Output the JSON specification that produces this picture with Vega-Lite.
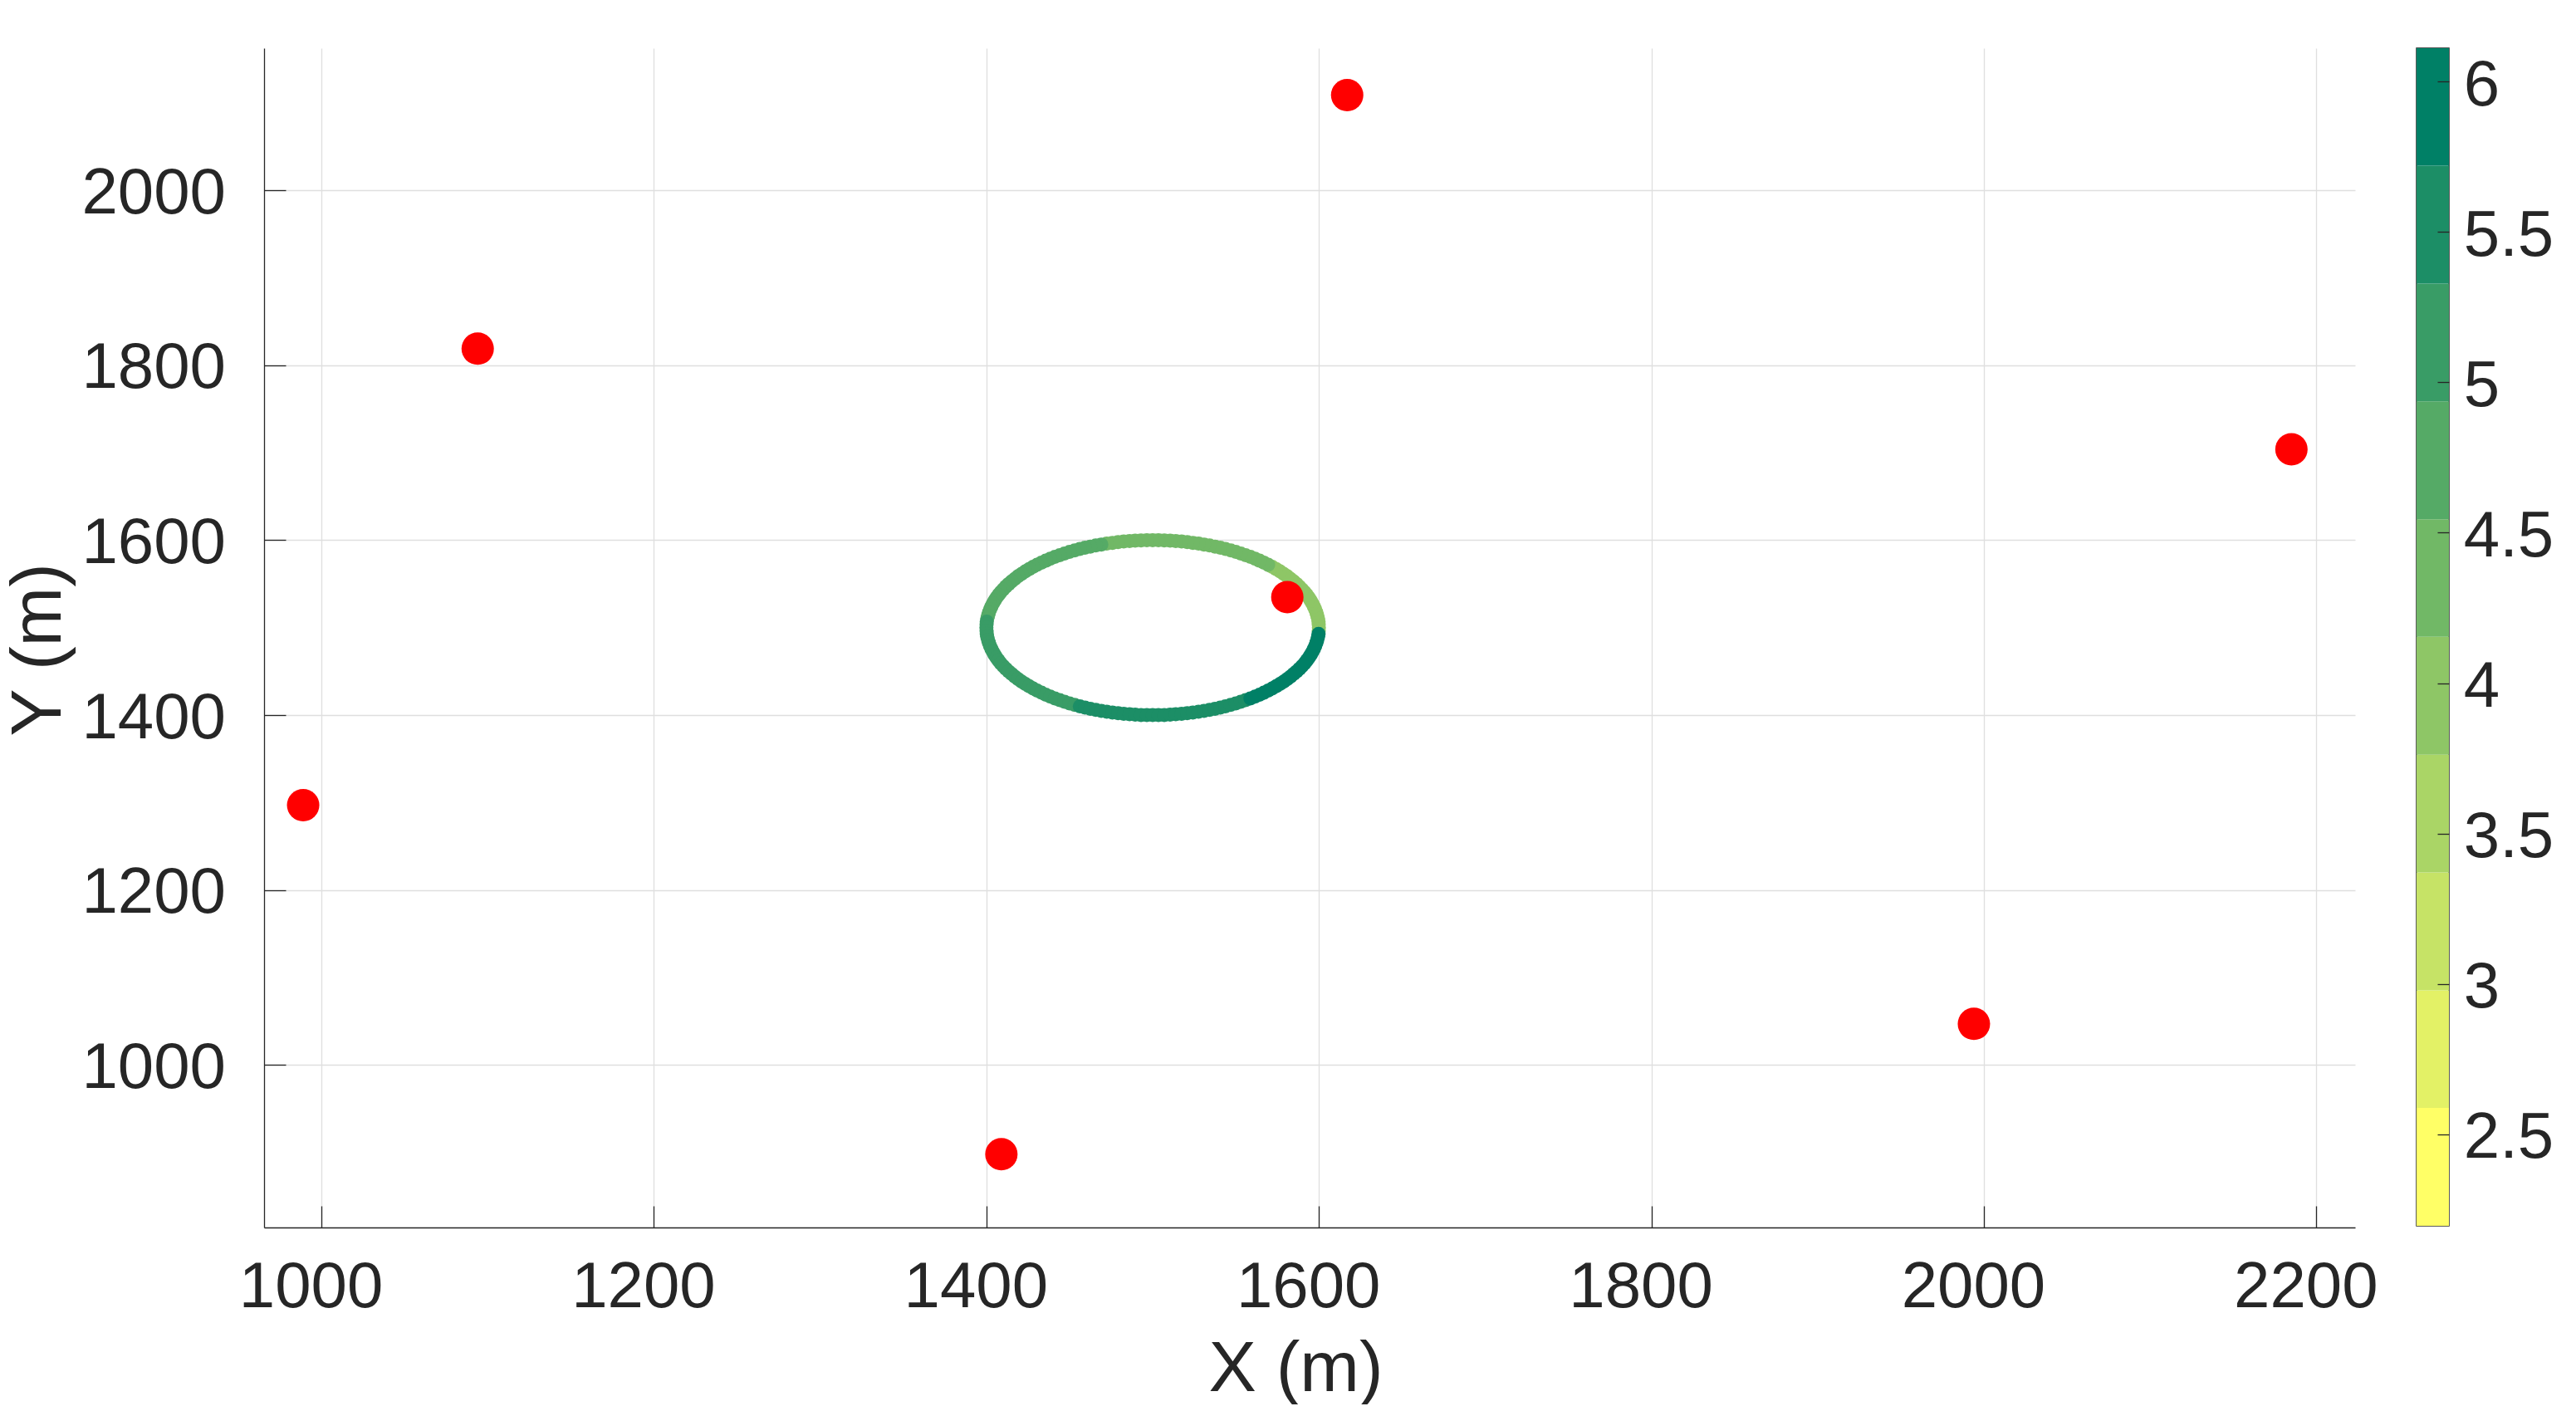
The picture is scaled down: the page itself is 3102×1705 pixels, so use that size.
{
"$schema": "https://vega.github.io/schema/vega-lite/v6.json",
"background": "white",
"padding": {"left": 3, "top": 57, "right": 0, "bottom": 0},
"spacing": 45,
"config": {
  "font": "Liberation Sans",
  "view": {"stroke": null},
  "axis": {"labelFont": "Liberation Sans", "titleFont": "Liberation Sans", "labelColor": "#262626", "titleColor": "#262626", "domainColor": "#262626", "tickColor": "#262626", "titleFontWeight": "normal"}
},
"datasets": {
  "ring": [
    {"x":1599.9,"y":1496.5,"v":3.86},{"x":1600.0,"y":1500.0,"v":3.87},{"x":1599.9,"y":1503.5,"v":3.89},{"x":1599.8,"y":1507.0,"v":3.90},
    {"x":1599.5,"y":1510.5,"v":3.91},{"x":1599.0,"y":1513.9,"v":3.92},{"x":1598.5,"y":1517.4,"v":3.94},{"x":1597.8,"y":1520.8,"v":3.95},
    {"x":1597.0,"y":1524.2,"v":3.96},{"x":1596.1,"y":1527.6,"v":3.98},{"x":1595.1,"y":1530.9,"v":3.99},{"x":1594.0,"y":1534.2,"v":4.00},
    {"x":1592.7,"y":1537.5,"v":4.01},{"x":1591.4,"y":1540.7,"v":4.03},{"x":1589.9,"y":1543.8,"v":4.04},{"x":1588.3,"y":1546.9,"v":4.05},
    {"x":1586.6,"y":1550.0,"v":4.07},{"x":1584.8,"y":1553.0,"v":4.08},{"x":1582.9,"y":1555.9,"v":4.09},{"x":1580.9,"y":1558.8,"v":4.10},
    {"x":1578.8,"y":1561.6,"v":4.12},{"x":1576.6,"y":1564.3,"v":4.13},{"x":1574.3,"y":1566.9,"v":4.14},{"x":1571.9,"y":1569.5,"v":4.15},
    {"x":1569.5,"y":1571.9,"v":4.17},{"x":1566.9,"y":1574.3,"v":4.18},{"x":1564.3,"y":1576.6,"v":4.19},{"x":1561.6,"y":1578.8,"v":4.20},
    {"x":1558.8,"y":1580.9,"v":4.22},{"x":1555.9,"y":1582.9,"v":4.23},{"x":1553.0,"y":1584.8,"v":4.24},{"x":1550.0,"y":1586.6,"v":4.26},
    {"x":1547.0,"y":1588.3,"v":4.27},{"x":1543.8,"y":1589.9,"v":4.28},{"x":1540.7,"y":1591.4,"v":4.29},{"x":1537.5,"y":1592.7,"v":4.31},
    {"x":1534.2,"y":1594.0,"v":4.32},{"x":1530.9,"y":1595.1,"v":4.33},{"x":1527.6,"y":1596.1,"v":4.34},{"x":1524.2,"y":1597.0,"v":4.36},
    {"x":1520.8,"y":1597.8,"v":4.37},{"x":1517.4,"y":1598.5,"v":4.38},{"x":1513.9,"y":1599.0,"v":4.39},{"x":1510.5,"y":1599.5,"v":4.41},
    {"x":1507.0,"y":1599.8,"v":4.42},{"x":1503.5,"y":1599.9,"v":4.43},{"x":1500.0,"y":1600.0,"v":4.44},{"x":1496.5,"y":1599.9,"v":4.46},
    {"x":1493.0,"y":1599.8,"v":4.47},{"x":1489.5,"y":1599.5,"v":4.48},{"x":1486.1,"y":1599.0,"v":4.50},{"x":1482.6,"y":1598.5,"v":4.51},
    {"x":1479.2,"y":1597.8,"v":4.52},{"x":1475.8,"y":1597.0,"v":4.53},{"x":1472.4,"y":1596.1,"v":4.54},{"x":1469.1,"y":1595.1,"v":4.56},
    {"x":1465.8,"y":1594.0,"v":4.57},{"x":1462.5,"y":1592.7,"v":4.58},{"x":1459.3,"y":1591.4,"v":4.59},{"x":1456.2,"y":1589.9,"v":4.60},
    {"x":1453.1,"y":1588.3,"v":4.61},{"x":1450.0,"y":1586.6,"v":4.63},{"x":1447.0,"y":1584.8,"v":4.64},{"x":1444.1,"y":1582.9,"v":4.65},
    {"x":1441.2,"y":1580.9,"v":4.66},{"x":1438.4,"y":1578.8,"v":4.67},{"x":1435.7,"y":1576.6,"v":4.68},{"x":1433.1,"y":1574.3,"v":4.70},
    {"x":1430.5,"y":1571.9,"v":4.71},{"x":1428.1,"y":1569.5,"v":4.72},{"x":1425.7,"y":1566.9,"v":4.73},{"x":1423.4,"y":1564.3,"v":4.74},
    {"x":1421.2,"y":1561.6,"v":4.75},{"x":1419.1,"y":1558.8,"v":4.76},{"x":1417.1,"y":1555.9,"v":4.78},{"x":1415.2,"y":1553.0,"v":4.79},
    {"x":1413.4,"y":1550.0,"v":4.80},{"x":1411.7,"y":1547.0,"v":4.81},{"x":1410.1,"y":1543.8,"v":4.82},{"x":1408.6,"y":1540.7,"v":4.83},
    {"x":1407.3,"y":1537.5,"v":4.84},{"x":1406.0,"y":1534.2,"v":4.86},{"x":1404.9,"y":1530.9,"v":4.87},{"x":1403.9,"y":1527.6,"v":4.88},
    {"x":1403.0,"y":1524.2,"v":4.89},{"x":1402.2,"y":1520.8,"v":4.90},{"x":1401.5,"y":1517.4,"v":4.91},{"x":1401.0,"y":1513.9,"v":4.93},
    {"x":1400.5,"y":1510.5,"v":4.93},{"x":1400.2,"y":1507.0,"v":4.95},{"x":1400.1,"y":1503.5,"v":4.96},{"x":1400.0,"y":1500.0,"v":4.97},
    {"x":1400.1,"y":1496.5,"v":4.98},{"x":1400.2,"y":1493.0,"v":4.99},{"x":1400.5,"y":1489.5,"v":5.01},{"x":1401.0,"y":1486.1,"v":5.02},
    {"x":1401.5,"y":1482.6,"v":5.03},{"x":1402.2,"y":1479.2,"v":5.04},{"x":1403.0,"y":1475.8,"v":5.05},{"x":1403.9,"y":1472.4,"v":5.06},
    {"x":1404.9,"y":1469.1,"v":5.08},{"x":1406.0,"y":1465.8,"v":5.09},{"x":1407.3,"y":1462.5,"v":5.10},{"x":1408.6,"y":1459.3,"v":5.11},
    {"x":1410.1,"y":1456.2,"v":5.12},{"x":1411.7,"y":1453.1,"v":5.13},{"x":1413.4,"y":1450.0,"v":5.14},{"x":1415.2,"y":1447.0,"v":5.16},
    {"x":1417.1,"y":1444.1,"v":5.17},{"x":1419.1,"y":1441.2,"v":5.18},{"x":1421.2,"y":1438.4,"v":5.19},{"x":1423.4,"y":1435.7,"v":5.20},
    {"x":1425.7,"y":1433.1,"v":5.21},{"x":1428.1,"y":1430.5,"v":5.23},{"x":1430.5,"y":1428.1,"v":5.24},{"x":1433.1,"y":1425.7,"v":5.25},
    {"x":1435.7,"y":1423.4,"v":5.26},{"x":1438.4,"y":1421.2,"v":5.27},{"x":1441.2,"y":1419.1,"v":5.28},{"x":1444.1,"y":1417.1,"v":5.29},
    {"x":1447.0,"y":1415.2,"v":5.31},{"x":1450.0,"y":1413.4,"v":5.32},{"x":1453.1,"y":1411.7,"v":5.32},{"x":1456.2,"y":1410.1,"v":5.34},
    {"x":1459.3,"y":1408.6,"v":5.35},{"x":1462.5,"y":1407.3,"v":5.37},{"x":1465.8,"y":1406.0,"v":5.38},{"x":1469.1,"y":1404.9,"v":5.39},
    {"x":1472.4,"y":1403.9,"v":5.40},{"x":1475.8,"y":1403.0,"v":5.42},{"x":1479.2,"y":1402.2,"v":5.43},{"x":1482.6,"y":1401.5,"v":5.44},
    {"x":1486.1,"y":1401.0,"v":5.45},{"x":1489.5,"y":1400.5,"v":5.47},{"x":1493.0,"y":1400.2,"v":5.48},{"x":1496.5,"y":1400.1,"v":5.49},
    {"x":1500.0,"y":1400.0,"v":5.50},{"x":1503.5,"y":1400.1,"v":5.52},{"x":1507.0,"y":1400.2,"v":5.53},{"x":1510.5,"y":1400.5,"v":5.54},
    {"x":1513.9,"y":1401.0,"v":5.56},{"x":1517.4,"y":1401.5,"v":5.57},{"x":1520.8,"y":1402.2,"v":5.58},{"x":1524.2,"y":1403.0,"v":5.59},
    {"x":1527.6,"y":1403.9,"v":5.61},{"x":1530.9,"y":1404.9,"v":5.62},{"x":1534.2,"y":1406.0,"v":5.63},{"x":1537.5,"y":1407.3,"v":5.64},
    {"x":1540.7,"y":1408.6,"v":5.66},{"x":1543.8,"y":1410.1,"v":5.67},{"x":1546.9,"y":1411.7,"v":5.68},{"x":1550.0,"y":1413.4,"v":5.69},
    {"x":1553.0,"y":1415.2,"v":5.71},{"x":1555.9,"y":1417.1,"v":5.71},{"x":1558.8,"y":1419.1,"v":5.73},{"x":1561.6,"y":1421.2,"v":5.75},
    {"x":1564.3,"y":1423.4,"v":5.76},{"x":1566.9,"y":1425.7,"v":5.77},{"x":1569.5,"y":1428.1,"v":5.78},{"x":1571.9,"y":1430.5,"v":5.80},
    {"x":1574.3,"y":1433.1,"v":5.81},{"x":1576.6,"y":1435.7,"v":5.82},{"x":1578.8,"y":1438.4,"v":5.83},{"x":1580.9,"y":1441.2,"v":5.85},
    {"x":1582.9,"y":1444.1,"v":5.86},{"x":1584.8,"y":1447.0,"v":5.87},{"x":1586.6,"y":1450.0,"v":5.89},{"x":1588.3,"y":1453.1,"v":5.90},
    {"x":1589.9,"y":1456.2,"v":5.91},{"x":1591.4,"y":1459.3,"v":5.92},{"x":1592.7,"y":1462.5,"v":5.94},{"x":1594.0,"y":1465.8,"v":5.95},
    {"x":1595.1,"y":1469.1,"v":5.96},{"x":1596.1,"y":1472.4,"v":5.97},{"x":1597.0,"y":1475.8,"v":5.99},{"x":1597.8,"y":1479.2,"v":6.00},
    {"x":1598.5,"y":1482.6,"v":6.01},{"x":1599.0,"y":1486.1,"v":6.02},{"x":1599.5,"y":1489.5,"v":6.04},{"x":1599.8,"y":1493.0,"v":6.05}
  ],
  "sensors": [
    {"x":1617,"y":2109},{"x":1094,"y":1819},{"x":2185,"y":1704},{"x":1581,"y":1535},
    {"x":989,"y":1297},{"x":1994,"y":1047},{"x":1409,"y":898}
  ],
  "bar": [
    {"lo":2.196,"hi":2.588,"v":2.392},{"lo":2.588,"hi":2.979,"v":2.783},{"lo":2.979,"hi":3.371,"v":3.175},
    {"lo":3.371,"hi":3.762,"v":3.566},{"lo":3.762,"hi":4.154,"v":3.958},{"lo":4.154,"hi":4.545,"v":4.349},
    {"lo":4.545,"hi":4.937,"v":4.741},{"lo":4.937,"hi":5.328,"v":5.132},{"lo":5.328,"hi":5.720,"v":5.524},
    {"lo":5.720,"hi":6.111,"v":5.915}
  ]
},
"hconcat": [
  {
    "width": 2518,
    "height": 1420,
    "layer": [
      {
        "data": {"name": "ring"},
        "mark": {"type": "circle", "size": 289, "opacity": 1},
        "encoding": {
          "x": {"field": "x", "type": "quantitative",
            "scale": {"domain": [965.5, 2223.3], "nice": false, "zero": false},
            "axis": {"title": "X (m)", "values": [1000,1200,1400,1600,1800,2000,2200], "format": "d",
              "grid": true, "gridColor": "#dfdfdf", "gridWidth": 1.3,
              "domainWidth": 1.3, "tickSize": -26, "tickWidth": 1.3,
              "labelFontSize": 78, "labelPadding": 59.4, "labelOffset": -13, "labelFlush": false, "labelOverlap": false,
              "titleFontSize": 86, "titleX": 1242, "titleY": 196, "titleBaseline": "alphabetic", "titleAlign": "center", "titleAngle": 0}},
          "y": {"field": "y", "type": "quantitative",
            "scale": {"domain": [814.2, 2162.6], "nice": false, "zero": false},
            "axis": {"title": "Y (m)", "values": [1000,1200,1400,1600,1800,2000], "format": "d",
              "grid": true, "gridColor": "#dfdfdf", "gridWidth": 1.3,
              "domainWidth": 1.3, "tickSize": -26, "tickWidth": 1.3,
              "labelFontSize": 78, "labelPadding": 72.5, "labelOffset": 4, "labelFlush": false, "labelOverlap": false,
              "titleFontSize": 86, "titleX": -245.3, "titleY": 724, "titleBaseline": "alphabetic", "titleAlign": "center", "titleAngle": 270}},
          "color": {"field": "v", "type": "quantitative",
            "scale": {"type": "quantize", "domain": [2.196, 6.111], "nice": false, "zero": false,
              "range": ["#ffff66","#e3f166","#c6e366","#aad566","#8ec666","#71b866","#55aa66","#399c66","#1c8e66","#008066"]},
            "legend": null}
        }
      },
      {
        "data": {"name": "sensors"},
        "mark": {"type": "circle", "size": 1521, "color": "#ff0000", "opacity": 1},
        "encoding": {
          "x": {"field": "x", "type": "quantitative"},
          "y": {"field": "y", "type": "quantitative"}
        }
      }
    ]
  },
  {
    "width": 39,
    "height": 1418,
    "view": {"stroke": "#262626", "strokeWidth": 1.5},
    "data": {"name": "bar"},
    "mark": {"type": "rect"},
    "encoding": {
      "y": {"field": "lo", "type": "quantitative",
        "scale": {"domain": [2.196, 6.111], "nice": false, "zero": false},
        "axis": {"title": null, "orient": "right", "values": [2.5,3,3.5,4,4.5,5,5.5,6], "format": "~g",
          "grid": false, "domain": false, "tickSize": -14, "tickWidth": 1.3, "zindex": 1,
          "labelFontSize": 78, "labelPadding": 31.3, "labelOffset": 5, "labelFlush": false, "labelOverlap": false}},
      "y2": {"field": "hi"},
      "color": {"field": "v", "type": "quantitative",
        "scale": {"type": "quantize", "domain": [2.196, 6.111], "nice": false, "zero": false,
          "range": ["#ffff66","#e3f166","#c6e366","#aad566","#8ec666","#71b866","#55aa66","#399c66","#1c8e66","#008066"]},
        "legend": null}
    }
  }
]
}
